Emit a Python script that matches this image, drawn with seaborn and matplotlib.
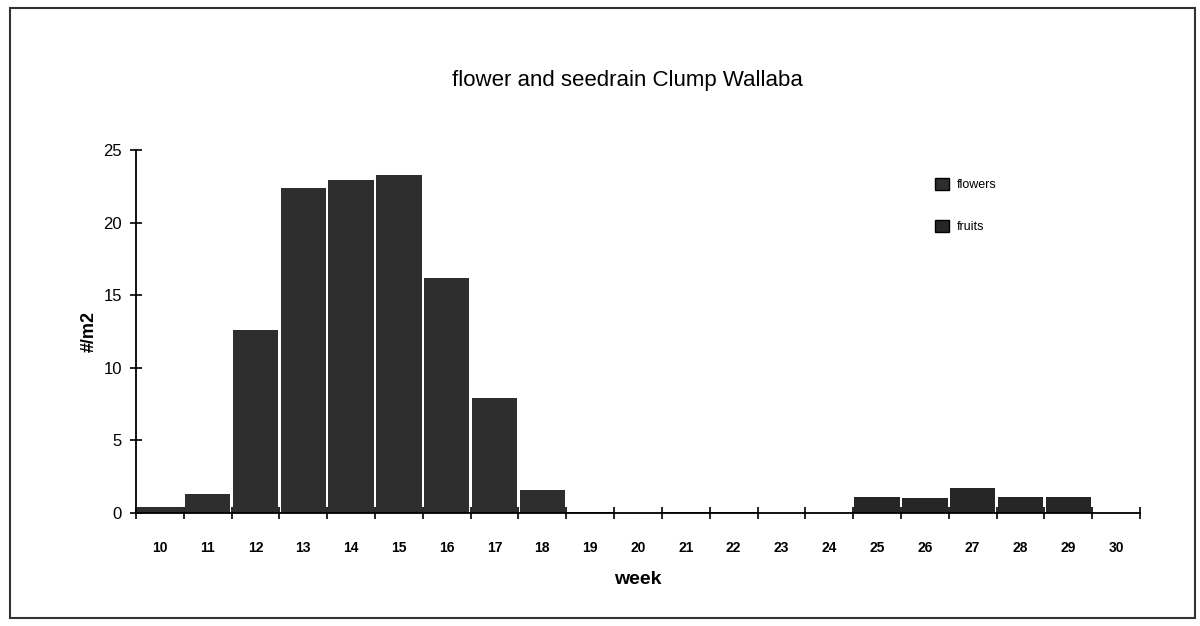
import numpy as np
import pandas as pd
import seaborn as sns
import matplotlib.pyplot as plt
from matplotlib.patches import Rectangle, Patch

# ----- Data -----
weeks = [10, 11, 12, 13, 14, 15, 16, 17, 18, 19, 20, 21, 22, 23, 24, 25, 26, 27, 28, 29, 30]
flowers = [0.4, 1.3, 12.6, 22.4, 22.9, 23.3, 16.2, 7.9, 1.6, 0.1, 0.0, 0.05, 0.05, 0.03, 0.0,
           0.0, 0.0, 0.0, 0.0, 0.0, 0.0]
fruits = [0.0, 0.0, 0.0, 0.0, 0.0, 0.0, 0.0, 0.0, 0.0, 0.0, 0.0, 0.0, 0.0, 0.0, 0.0,
          1.1, 1.0, 1.7, 1.1, 1.1, 0.0]
series_names = ['flowers', 'fruits']
series_colors = ['#2e2e2e', '#262626']

df = pd.DataFrame({'week': weeks * 2,
                   'value': flowers + fruits,
                   'kind': [series_names[0]] * len(weeks) + [series_names[1]] * len(weeks)})

# ----- Style -----
sns.set_style('white')
plt.rcParams['font.family'] = ['Liberation Sans', 'DejaVu Sans']
plt.rcParams['text.color'] = 'black'
plt.rcParams['axes.labelcolor'] = 'black'
plt.rcParams['xtick.color'] = 'black'
plt.rcParams['ytick.color'] = 'black'

fig = plt.figure(figsize=(12, 6.26), dpi=100)
ax = fig.add_axes([0.1133, 0.1805, 0.8367, 0.58])

sns.barplot(data=df, x='week', y='value', hue='kind', dodge=False,
            palette=dict(zip(series_names, series_colors)), width=0.95,
            edgecolor='none', saturation=1, legend=False, ax=ax)

ax.set_xlim(-0.5, len(weeks) - 0.5)
ax.set_ylim(0, 25)
ax.set_yticks([0, 5, 10, 15, 20, 25])
ax.tick_params(axis='y', left=True, direction='inout', length=8, width=1.2, labelsize=12, pad=6)
ax.tick_params(axis='x', which='major', bottom=True, length=0, labelsize=10, pad=20)
ax.set_xticks(np.arange(-0.5, len(weeks), 1.0), minor=True)
ax.tick_params(axis='x', which='minor', bottom=True, direction='inout', length=8, width=1.2)
for lbl in ax.get_xticklabels():
    lbl.set_fontweight('bold')

for s in ['top', 'right']:
    ax.spines[s].set_visible(False)
for s in ['left', 'bottom']:
    ax.spines[s].set_color('black')
    ax.spines[s].set_linewidth(1.3)

ax.set_xlabel('week', fontsize=14, fontweight='bold', labelpad=12)
ax.set_ylabel('#/m2', fontsize=13, fontweight='bold', labelpad=4)
fig.text(0.523, 0.872, 'flower and seedrain Clump Wallaba', ha='center', va='center', fontsize=16)

handles = [Patch(facecolor=c, edgecolor='black') for c in series_colors]
ax.legend(handles, series_names, loc='upper left', bbox_to_anchor=(0.785, 0.955),
          frameon=False, fontsize=9, handlelength=1.1, handleheight=1.1,
          labelspacing=2.3, handletextpad=0.6)

# outer border of the chart area
fig.patches.append(Rectangle((0.008, 0.012), 0.988, 0.975, transform=fig.transFigure,
                             fill=False, edgecolor='#333333', linewidth=1.5))

plt.savefig('out.png', dpi=100)
